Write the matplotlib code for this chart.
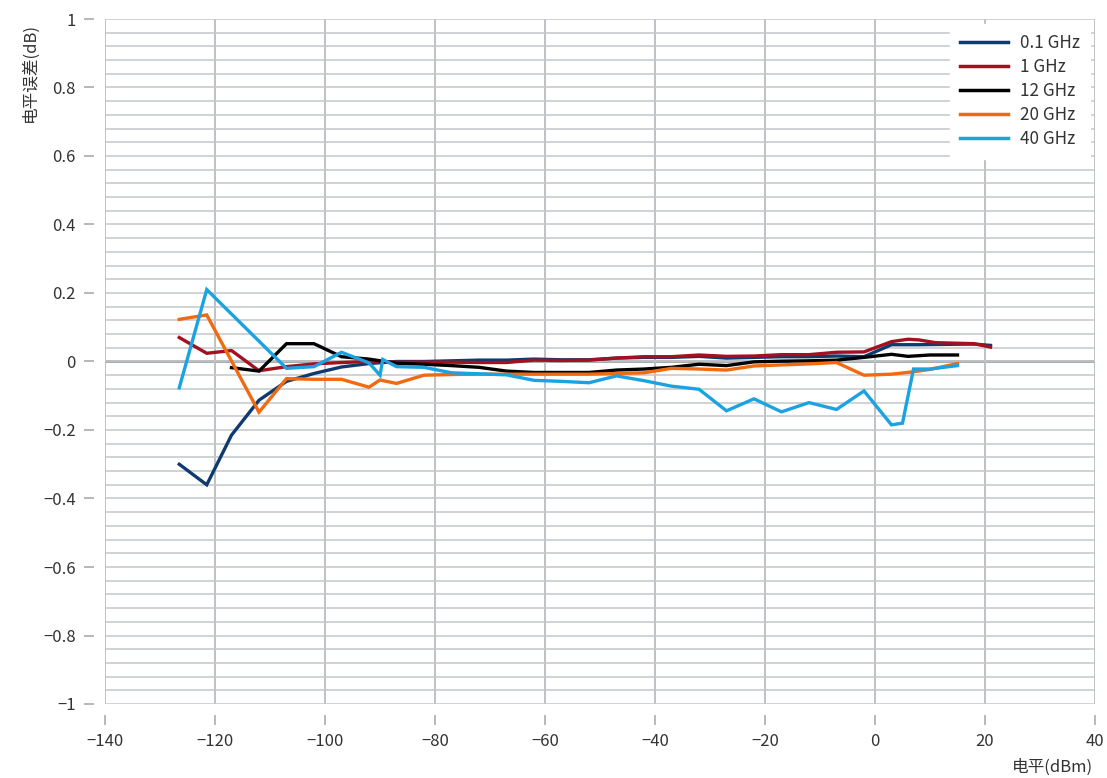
import matplotlib
matplotlib.use("Agg")
import matplotlib.pyplot as plt
from matplotlib.ticker import MultipleLocator

plt.rcParams['font.family'] = ['Noto Sans CJK SC', 'DejaVu Sans']
plt.rcParams['axes.unicode_minus'] = True

# ---- data ----
series_names = ["0.1 GHz", "1 GHz", "12 GHz", "20 GHz", "40 GHz"]
series_colors = ["#0d3b70", "#a3101f", "#000000", "#ef6a10", "#1aa3e0"]

x_01 = [-126.5, -121.5, -117, -112, -107, -102, -97, -92, -87, -82, -77, -72, -67, -62,
        -57, -52, -47, -42, -37, -32, -27, -22, -17, -12, -7, -2, 3, 8, 13, 18, 21]
y_01 = [-0.30, -0.36, -0.215, -0.113, -0.058, -0.035, -0.016, -0.006, 0.0, 0.0, 0.002, 0.004,
        0.004, 0.007, 0.005, 0.005, 0.010, 0.012, 0.012, 0.015, 0.010, 0.012, 0.014, 0.014,
        0.016, 0.014, 0.049, 0.049, 0.050, 0.051, 0.047]

x_1 = [-126.5, -121.5, -117, -112, -107, -102, -97, -92, -87, -82, -77, -72, -67, -62,
       -57, -52, -47, -42, -37, -32, -27, -22, -17, -12, -7, -2, 3, 6, 8, 11, 18, 21]
y_1 = [0.070, 0.024, 0.032, -0.027, -0.015, -0.007, -0.003, 0.0, -0.002, -0.002, -0.002,
       -0.003, -0.003, 0.004, 0.003, 0.004, 0.010, 0.014, 0.014, 0.019, 0.015, 0.016, 0.020,
       0.020, 0.027, 0.028, 0.058, 0.065, 0.063, 0.055, 0.052, 0.042]

x_12 = [-117, -112, -107, -102, -97, -92, -87, -82, -77, -72, -67, -62, -57, -52, -47,
        -42, -37, -32, -27, -22, -17, -12, -7, -2, 3, 6, 10, 15]
y_12 = [-0.018, -0.028, 0.052, 0.052, 0.014, 0.007, -0.005, -0.008, -0.012, -0.017, -0.028,
        -0.032, -0.032, -0.032, -0.025, -0.022, -0.017, -0.008, -0.012, -0.001, 0.001, 0.002,
        0.004, 0.012, 0.021, 0.015, 0.019, 0.019]

x_20 = [-126.5, -121.5, -112, -107, -102, -97, -92, -90, -87, -82, -77, -72, -67, -62,
        -57, -52, -47, -42, -37, -32, -27, -22, -17, -12, -7, -2, 3, 7, 10, 15]
y_20 = [0.123, 0.136, -0.148, -0.050, -0.052, -0.052, -0.075, -0.054, -0.064, -0.040, -0.038,
        -0.037, -0.037, -0.037, -0.037, -0.037, -0.035, -0.033, -0.020, -0.022, -0.025, -0.013,
        -0.010, -0.007, -0.003, -0.040, -0.037, -0.030, -0.023, -0.006]

x_40 = [-126.5, -121.5, -107, -102, -97, -92, -90, -89.5, -87, -82, -77, -72, -67, -62,
        -57, -52, -47, -42, -37, -32, -27, -22, -17, -12, -7, -2, 3, 5, 7, 10, 15]
y_40 = [-0.077, 0.210, -0.020, -0.015, 0.027, -0.004, -0.040, 0.006, -0.015, -0.017, -0.033,
        -0.036, -0.039, -0.055, -0.058, -0.062, -0.042, -0.056, -0.072, -0.081, -0.144, -0.109,
        -0.147, -0.120, -0.140, -0.086, -0.185, -0.180, -0.022, -0.022, -0.012]

xs = [x_01, x_1, x_12, x_20, x_40]
ys = [y_01, y_1, y_12, y_20, y_40]

x_ticks = [-140, -120, -100, -80, -60, -40, -20, 0, 20, 40]
y_ticks = [-1, -0.8, -0.6, -0.4, -0.2, 0, 0.2, 0.4, 0.6, 0.8, 1]

# ---- figure ----
W, H = 1107, 778
fig = plt.figure(figsize=(W / 100, H / 100), dpi=100)
ax = fig.add_axes([105 / W, 1 - 704 / H, (1095 - 105) / W, (704 - 19) / H])

ax.set_xlim(-140, 40)
ax.set_ylim(-1, 1)

grid_c = "#c3c7cb"
ax.yaxis.set_minor_locator(MultipleLocator(0.04))
ax.set_yticks(y_ticks)
ax.set_xticks(x_ticks)
ax.grid(True, which='minor', axis='y', color=grid_c, linewidth=1.1, zorder=0)
ax.grid(True, which='major', axis='y', color=grid_c, linewidth=1.1, zorder=0)
ax.grid(True, which='major', axis='x', color="#b9bdc1", linewidth=1.3, zorder=0)
ax.axhline(0, color="#9ea2a6", linewidth=2.0, zorder=1)

for s in ax.spines.values():
    s.set_visible(False)
ax.spines['left'].set_position(('outward', 8))
ax.spines['bottom'].set_position(('outward', 8))

ax.tick_params(axis='both', which='major', direction='out', length=7, width=1.2,
               color="#a8acb0", labelcolor="#333333", labelsize=12, pad=6)
ax.tick_params(axis='y', which='minor', length=0)

ax.set_yticklabels([("%g" % v).replace("-", "\u2212") for v in y_ticks])
ax.set_xticklabels([("%g" % v).replace("-", "\u2212") for v in x_ticks])

for x, y, name, c in zip(xs, ys, series_names, series_colors):
    ax.plot(x, y, color=c, linewidth=2.4, label=name, zorder=3, solid_joinstyle='miter')

leg = ax.legend(loc='upper right', fontsize=12.3, frameon=True, fancybox=False,
                handlelength=2.8, handletextpad=0.7, labelspacing=0.35,
                borderpad=0.6, borderaxespad=0.3, labelcolor="#333333")
leg.get_frame().set_facecolor("white")
leg.get_frame().set_edgecolor("white")
leg.get_frame().set_alpha(1.0)
for line in leg.get_lines():
    line.set_linewidth(2.5)

fig.text(30 / W, 1 - 72 / H, "电平误差(dB)", rotation=90, ha='center', va='center',
         fontsize=12, color="#333333")
fig.text(1093 / W, 1 - 767 / H, "电平(dBm)", ha='right', va='center',
         fontsize=12, color="#333333")

fig.savefig("out.png", dpi=100)
